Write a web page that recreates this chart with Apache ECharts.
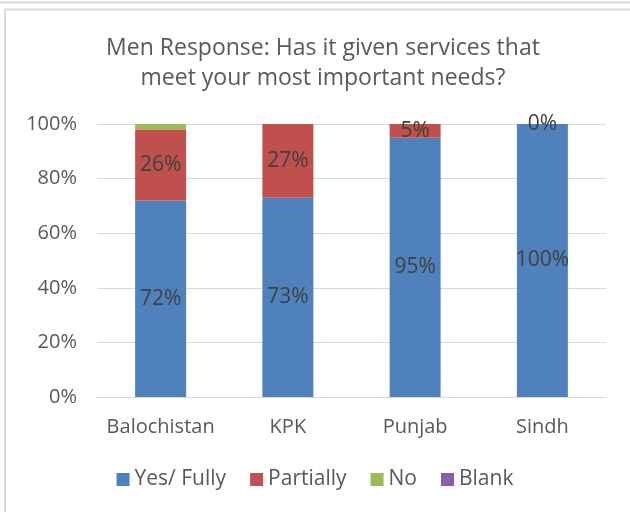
<!DOCTYPE html>
<html><head><meta charset="utf-8">
<script src="https://cdn.jsdelivr.net/npm/echarts@6/dist/echarts.min.js"></script>
<style>html,body{margin:0;padding:0;background:#fff}#c{width:630px;height:512px}</style>
</head><body><div id="c"></div>
<script>
const categories = ['Balochistan', 'KPK', 'Punjab', 'Sindh'];
const yesFully = [72, 73, 95, 100];
const partially = [26, 27, 5, 0];
const no = [2, 0, 0, 0];
const blank = [0, 0, 0, 0];
const yTicks = [0, 20, 40, 60, 80, 100];

const font = '"Open Sans", "Noto Sans", sans-serif';
const chart = echarts.init(document.getElementById('c'), null, {renderer: 'canvas'});
function lbl(show) {
  return {show: show, position: 'inside', formatter: p => p.value + '%', color: '#404040', fontSize: 21, fontFamily: font};
}
chart.setOption({
  animation: false,
  graphic: [
    {type: 'line', shape: {x1: 0, y1: 2.5, x2: 630, y2: 2.5}, style: {stroke: '#d9d9d9', lineWidth: 2}},
    {type: 'polyline', shape: {points: [[5, 512], [5, 9.5], [630, 9.5]]}, style: {stroke: '#d9d9d9', lineWidth: 2, fill: null}}
  ],
  title: {
    text: 'Men Response: Has it given services that\nmeet your most important needs?',
    left: 318, top: 28, textAlign: 'center',
    textStyle: {color: '#595959', fontSize: 23, fontWeight: 'normal', fontFamily: font, lineHeight: 30}
  },
  legend: {
    bottom: 17, left: 'center', itemWidth: 13, itemHeight: 13, itemGap: 24, icon: 'rect',
    textStyle: {color: '#595959', fontSize: 21, fontFamily: font},
    data: ['Yes/ Fully', 'Partially', 'No', 'Blank']
  },
  grid: {left: 97, right: 24, top: 124, bottom: 115},
  xAxis: {
    type: 'category', data: categories,
    axisLine: {lineStyle: {color: '#d9d9d9', width: 1}},
    axisTick: {show: false},
    axisLabel: {interval: 0, color: '#595959', fontSize: 20, fontFamily: font, margin: 20}
  },
  yAxis: {
    type: 'value', min: 0, max: 100, interval: 20,
    axisLabel: {formatter: v => yTicks.includes(v) ? v + '%' : '', color: '#595959', fontSize: 20, fontFamily: font, margin: 20},
    splitLine: {lineStyle: {color: '#d9d9d9'}},
    axisLine: {show: false}, axisTick: {show: false}
  },
  series: [
    {name: 'Yes/ Fully', type: 'bar', stack: 's', data: yesFully, barWidth: 51, itemStyle: {color: '#4f81bd'}, label: lbl(true)},
    {name: 'Partially', type: 'bar', stack: 's', data: partially, itemStyle: {color: '#c0504d'}, label: lbl(true)},
    {name: 'No', type: 'bar', stack: 's', data: no, itemStyle: {color: '#9bbb59'}, label: lbl(false)},
    {name: 'Blank', type: 'bar', stack: 's', data: blank, itemStyle: {color: '#8064a2'}, label: lbl(false)}
  ]
});
</script></body></html>
